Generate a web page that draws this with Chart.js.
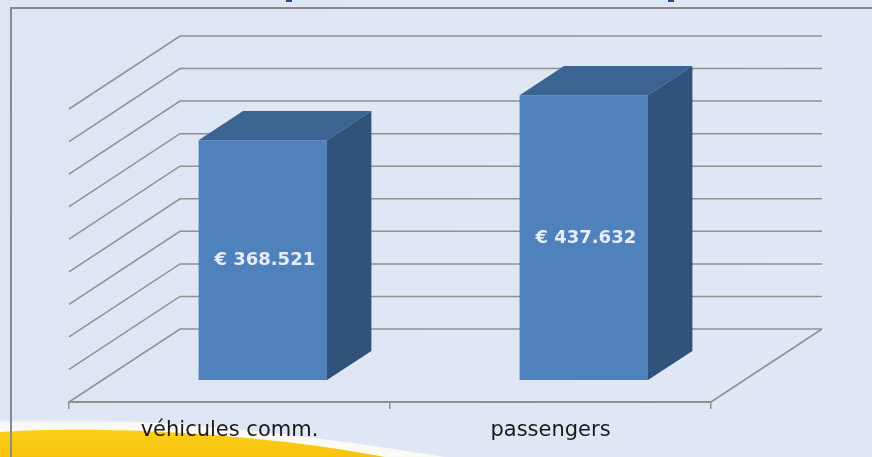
<!DOCTYPE html>
<html>
<head>
<meta charset="utf-8">
<style>
html,body{margin:0;padding:0;background:#dfe6f4;overflow:hidden}
canvas{display:block}
</style>
<script src="https://cdn.jsdelivr.net/npm/chart.js@4/dist/chart.umd.js"></script>
</head>
<body>
<canvas id="c" width="872" height="457"></canvas>
<script>
const categories = ['véhicules comm.', 'passengers'];
const amounts = [368521, 437632];
const axisMin = 0;
const axisMax = 450000;
const axisStep = 50000;

const DEPTH_X = 111, DEPTH_Y = -73;
const BAR_OFFSET = 0.3, BAR_DEPTH = 0.4;
const GRID = '#92918c';

const euro = v => '€ ' + String(v).replace(/\B(?=(\d{3})+$)/g, '.');

const backdrop = {
  id: 'backdrop',
  beforeDraw(chart) {
    const { ctx, width, height } = chart;
    ctx.save();
    const g = ctx.createLinearGradient(0, 0, width, height);
    g.addColorStop(0, '#dee5f3');
    g.addColorStop(1, '#e0e7f5');
    ctx.fillStyle = g;
    ctx.fillRect(0, 0, width, height);

    // descenders of the cropped heading at the top edge
    ctx.fillStyle = '#1f4e8c';
    ctx.fillRect(286, 0, 6, 2);
    ctx.fillRect(668, 0, 6, 2);

    // white glow of the swoosh
    const w = ctx.createLinearGradient(0, 419, 0, 432);
    w.addColorStop(0, 'rgba(250,250,248,0)');
    w.addColorStop(0.35, '#f8f8f6');
    w.addColorStop(1, '#fbfaf4');
    ctx.fillStyle = w;
    ctx.beginPath();
    ctx.moveTo(0, 419);
    ctx.bezierCurveTo(120, 417, 270, 428, 445, 457);
    ctx.lineTo(0, 457);
    ctx.closePath();
    ctx.fill();
    // yellow swoosh
    const y = ctx.createLinearGradient(0, 430, 0, 457);
    y.addColorStop(0, '#fbcf17');
    y.addColorStop(1, '#f7c30e');
    ctx.fillStyle = y;
    ctx.beginPath();
    ctx.moveTo(0, 432);
    ctx.bezierCurveTo(100, 426, 250, 432, 385, 457);
    ctx.lineTo(0, 457);
    ctx.closePath();
    ctx.fill();

    // frame
    ctx.strokeStyle = '#8b8b8b';
    ctx.lineWidth = 2;
    ctx.beginPath();
    ctx.moveTo(11, height);
    ctx.lineTo(11, 8);
    ctx.lineTo(width, 8);
    ctx.stroke();
    ctx.restore();
  }
};

const walls = {
  id: 'walls',
  beforeDatasetsDraw(chart) {
    const { ctx, scales: { x, y } } = chart;
    const L = x.left, R = x.right;
    ctx.save();
    ctx.strokeStyle = GRID;
    ctx.lineWidth = 1.5;
    y.ticks.forEach(t => {
      const py = y.getPixelForValue(t.value);
      ctx.beginPath();
      ctx.moveTo(L, py);
      ctx.lineTo(L + DEPTH_X, py + DEPTH_Y);
      ctx.lineTo(R + DEPTH_X, py + DEPTH_Y);
      ctx.stroke();
    });
    const b = y.getPixelForValue(axisMin);
    ctx.beginPath();
    ctx.moveTo(R + DEPTH_X, b + DEPTH_Y);
    ctx.lineTo(R, b);
    ctx.stroke();
    ctx.restore();
  },
  beforeDatasetDraw(chart) {
    const ctx = chart.ctx;
    ctx.save();
    ctx.translate(DEPTH_X * BAR_OFFSET, DEPTH_Y * BAR_OFFSET);
  },
  afterDatasetDraw(chart) {
    const ctx = chart.ctx;
    const meta = chart.getDatasetMeta(0);
    const dx = DEPTH_X * BAR_DEPTH, dy = DEPTH_Y * BAR_DEPTH;
    meta.data.forEach(bar => {
      const l = bar.x - bar.width / 2, r = bar.x + bar.width / 2;
      ctx.fillStyle = '#3c6493';
      ctx.beginPath();
      ctx.moveTo(l, bar.y);
      ctx.lineTo(l + dx, bar.y + dy);
      ctx.lineTo(r + dx, bar.y + dy);
      ctx.lineTo(r, bar.y);
      ctx.closePath();
      ctx.fill();
      ctx.fillStyle = '#30527b';
      ctx.beginPath();
      ctx.moveTo(r, bar.y);
      ctx.lineTo(r + dx, bar.y + dy);
      ctx.lineTo(r + dx, bar.base + dy);
      ctx.lineTo(r, bar.base);
      ctx.closePath();
      ctx.fill();
    });
    ctx.fillStyle = '#e6edf8';
    ctx.font = 'bold 18px "DejaVu Sans"';
    ctx.textAlign = 'center';
    ctx.textBaseline = 'middle';
    meta.data.forEach((bar, i) => {
      ctx.fillText(euro(amounts[i]), bar.x + 2, (bar.y + bar.base) / 2 + 0.5);
    });
    ctx.restore();
  }
};

new Chart(document.getElementById('c'), {
  type: 'bar',
  data: {
    labels: categories,
    datasets: [{
      data: amounts,
      backgroundColor: '#4f81bd',
      borderWidth: 0,
      barPercentage: 0.8,
      categoryPercentage: 0.5
    }]
  },
  plugins: [backdrop, walls],
  options: {
    responsive: false,
    animation: false,
    layout: { padding: { left: 69, right: 161, top: 109, bottom: 0 } },
    plugins: { legend: { display: false }, tooltip: { enabled: false } },
    scales: {
      x: {
        afterFit(s) { s.height = 55; },
        grid: { drawOnChartArea: false, offset: true, color: GRID, lineWidth: 1.5, tickLength: 7 },
        border: { color: GRID, width: 2 },
        ticks: { color: '#1a1a1a', font: { family: '"DejaVu Sans"', size: 21 }, padding: 9, maxRotation: 0 }
      },
      y: {
        display: false,
        min: axisMin,
        max: axisMax,
        ticks: { stepSize: axisStep }
      }
    }
  }
});
</script>
</body>
</html>
